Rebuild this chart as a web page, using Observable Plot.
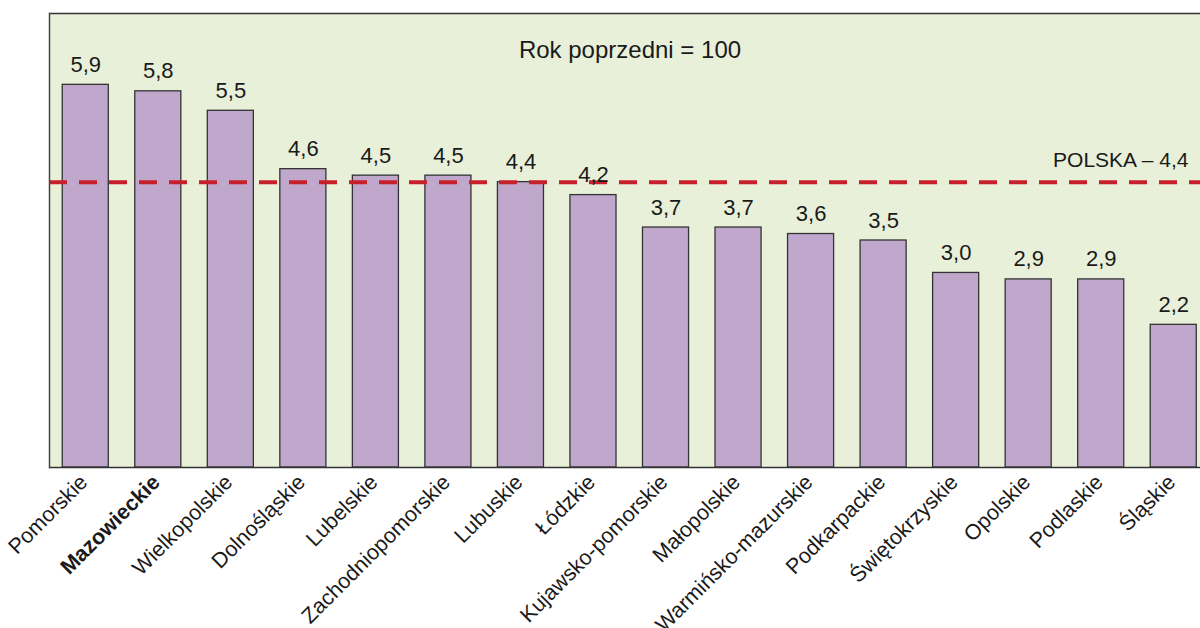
<!DOCTYPE html>
<html>
<head>
<meta charset="utf-8">
<script src="https://cdn.jsdelivr.net/npm/d3@7"></script>
<script src="https://cdn.jsdelivr.net/npm/@observablehq/plot@0.6"></script>
<style>
  html, body { margin: 0; padding: 0; background: #fff; overflow: hidden; }
  #chart { width: 1200px; height: 628px; overflow: hidden; }
  svg { font-family: "Liberation Sans", Arial, sans-serif; }
</style>
</head>
<body>
<div id="chart"></div>
<script>
const regions = ["Pomorskie", "Mazowieckie", "Wielkopolskie", "Dolnośląskie", "Lubelskie", "Zachodniopomorskie", "Lubuskie", "Łódzkie", "Kujawsko-pomorskie", "Małopolskie", "Warmińsko-mazurskie", "Podkarpackie", "Świętokrzyskie", "Opolskie", "Podlaskie", "Śląskie"];
const values = [5.9, 5.8, 5.5, 4.6, 4.5, 4.5, 4.4, 4.2, 3.7, 3.7, 3.6, 3.5, 3.0, 2.9, 2.9, 2.2];
const highlighted = ["Mazowieckie"];
const polskaValue = 4.4;
const polskaLabel = "POLSKA – 4,4";
const title = "Rok poprzedni = 100";

const data = regions.map((r, i) => ({region: r, value: values[i]}));
const fmt = v => d3.format(".1f")(v).replace(".", ",");

const chart = Plot.plot({
  width: 1200,
  height: 628,
  marginLeft: 49,
  marginRight: 0,
  marginTop: 13,
  marginBottom: 161,
  style: {fontFamily: '"Liberation Sans", Arial, sans-serif', background: "#fff", overflow: "hidden"},
  x: {type: "band", domain: regions, range: [49, 1209.5], round: false, paddingInner: 0.365, paddingOuter: 0.1825, align: 0.5, axis: null},
  y: {domain: [0, 7], axis: null},
  marks: [
    Plot.frame({fill: "#e8f0d9"}),
    Plot.barY(data, {x: "region", y: "value", fill: "#c0a8cd", stroke: "#333", strokeWidth: 1.3}),
    Plot.ruleY([polskaValue], {stroke: "#c8202a", strokeWidth: 4, strokeDasharray: "18,12"}),
    Plot.text(data, {x: "region", y: "value", text: d => fmt(d.value), dy: -13, lineAnchor: "bottom", fontSize: 22, fill: "#1a1a1a"}),
    Plot.text(data.filter(d => !highlighted.includes(d.region)), {x: "region", y: 0, text: "region", rotate: -45, textAnchor: "end", lineAnchor: "bottom", dx: 3, dy: 16, fontSize: 21.5, fill: "#1a1a1a"}),
    Plot.text(data.filter(d => highlighted.includes(d.region)), {x: "region", y: 0, text: "region", rotate: -45, textAnchor: "end", lineAnchor: "bottom", dx: 3, dy: 16, fontSize: 21.5, fontWeight: "bold", fill: "#1a1a1a"}),
    Plot.text([title], {frameAnchor: "top", dx: 5, text: d => d, dy: 44, lineAnchor: "bottom", fontSize: 24, fill: "#1a1a1a"}),
    Plot.text([polskaLabel], {frameAnchor: "right", y: polskaValue, text: d => d, dx: -12, dy: -15, textAnchor: "end", lineAnchor: "bottom", fontSize: 21, fill: "#1a1a1a"}),
    Plot.ruleY([0, 7], {stroke: "#333", strokeWidth: 1.5}),
    Plot.frame({anchor: "left", stroke: "#444", strokeWidth: 1.5})
  ]
});
document.getElementById("chart").appendChild(chart);
</script>
</body>
</html>
